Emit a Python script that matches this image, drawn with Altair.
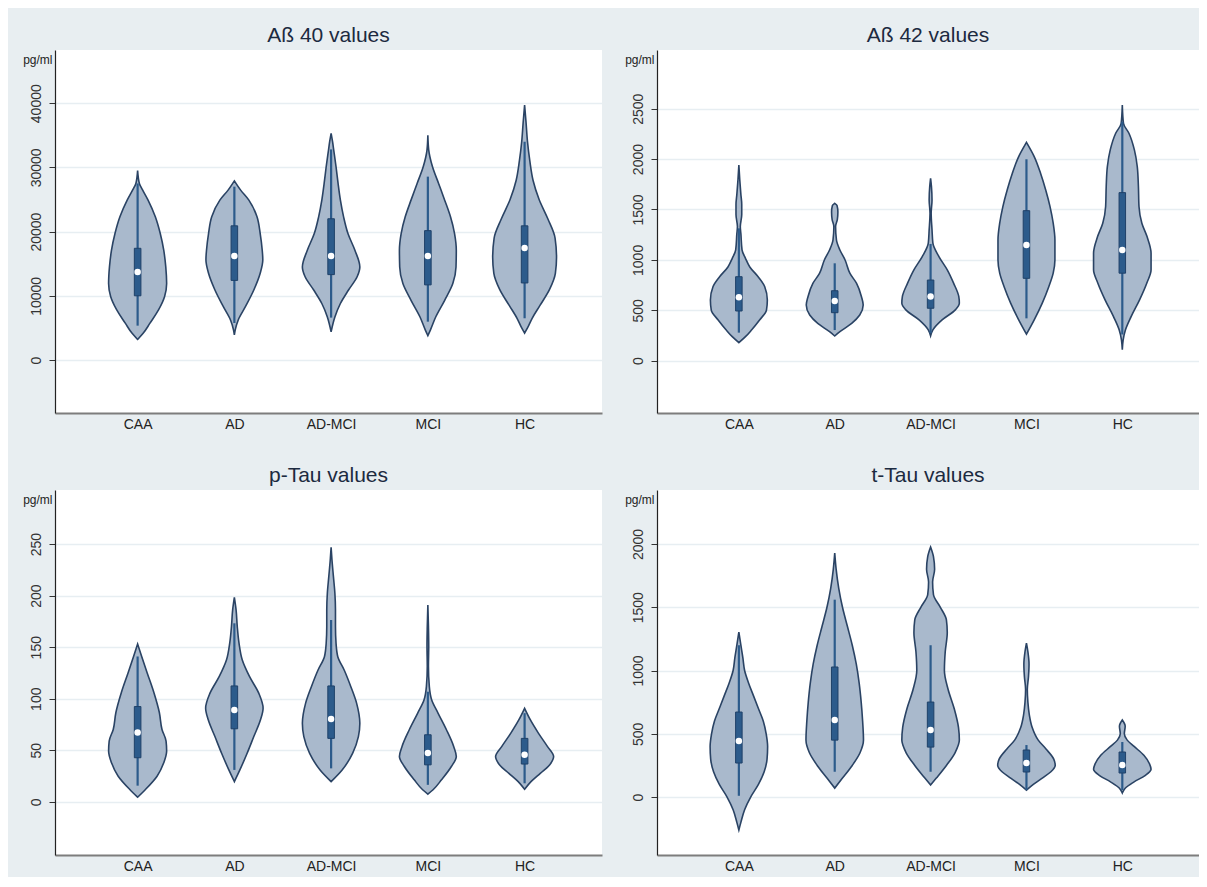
import altair as alt
import pandas as pd

GROUPS = ["CAA", "AD", "AD-MCI", "MCI", "HC"]

# ---------------- Aß 40 (pg/ml) : violin outlines (value, relative density) ----------------
AB40_CAA_V = [29500, 27500, 26500, 24900, 22300, 19700, 17100, 14500, 11900, 9900, 7800, 5700, 4150, 3200]
AB40_CAA_D = [0, 0.06, 0.17, 0.36, 0.61, 0.78, 0.9, 0.97, 1.0, 0.93, 0.72, 0.42, 0.19, 0]
AB40_AD_V = [27900, 26500, 24900, 22300, 19700, 17100, 15600, 13500, 10900, 8300, 6200, 4700, 3900]
AB40_AD_D = [0, 0.21, 0.5, 0.78, 0.89, 0.96, 0.98, 0.89, 0.67, 0.38, 0.13, 0.03, 0]
AB40_ADMCI_V = [35300, 34000, 32700, 30100, 27500, 24900, 22300, 19700, 17100, 14500, 13000, 10900, 8800, 6700, 4400]
AB40_ADMCI_D = [0, 0.05, 0.09, 0.17, 0.24, 0.32, 0.43, 0.58, 0.82, 0.99, 0.9, 0.6, 0.32, 0.13, 0]
AB40_MCI_V = [35000, 32700, 30100, 27500, 24900, 22300, 19700, 17100, 14500, 11900, 9300, 6700, 4700, 3800]
AB40_MCI_D = [0, 0.03, 0.16, 0.37, 0.58, 0.78, 0.92, 0.98, 0.97, 0.86, 0.58, 0.27, 0.09, 0]
AB40_HC_V = [39700, 37000, 34000, 31000, 28000, 25000, 22000, 19000, 16000, 13500, 11000, 8500, 6500, 5000, 4200]
AB40_HC_D = [0, 0.05, 0.1, 0.18, 0.29, 0.5, 0.8, 1.05, 1.1, 1.06, 0.86, 0.53, 0.26, 0.1, 0]
AB40_MED = [13700, 16200, 16200, 16200, 17450]
AB40_Q1 = [10000, 12400, 13300, 11700, 12000]
AB40_Q3 = [17400, 20900, 22000, 20150, 20900]
AB40_LO = [5350, 5760, 6600, 5970, 6500]
AB40_HI = [27500, 27000, 32800, 28560, 34000]
AB40_TICKS = [0, 10000, 20000, 30000, 40000]

# ---------------- Aß 42 ----------------
AB42_CAA_V = [1940, 1800, 1650, 1550, 1450, 1330, 1260, 1100, 1015, 930, 833, 734, 602, 502, 403, 304, 238, 179]
AB42_CAA_D = [0, 0.03, 0.07, 0.1, 0.1, 0.05, 0.07, 0.11, 0.23, 0.38, 0.67, 0.9, 0.99, 0.96, 0.72, 0.44, 0.23, 0]
AB42_AD_V = [1561, 1540, 1476, 1400, 1330, 1197, 1098, 999, 866, 767, 635, 552, 453, 370, 288, 245]
AB42_AD_D = [0, 0.08, 0.11, 0.09, 0.03, 0.06, 0.18, 0.36, 0.53, 0.76, 0.93, 0.99, 0.87, 0.59, 0.18, 0]
AB42_ADMCI_V = [1809, 1727, 1595, 1463, 1298, 1166, 1033, 901, 769, 637, 570, 504, 405, 306, 246]
AB42_ADMCI_D = [0, 0.03, 0.05, 0.02, 0.05, 0.08, 0.29, 0.58, 0.8, 0.98, 1.0, 0.86, 0.4, 0.08, 0]
AB42_MCI_V = [2166, 2025, 1860, 1694, 1529, 1364, 1198, 1000, 868, 736, 571, 405, 263]
AB42_MCI_D = [0, 0.27, 0.49, 0.67, 0.82, 0.93, 0.99, 0.99, 0.93, 0.78, 0.55, 0.27, 0]
AB42_HC_V = [2537, 2355, 2256, 2091, 1925, 1727, 1529, 1364, 1231, 1066, 901, 769, 604, 439, 306, 207, 108]
AB42_HC_D = [0, 0.04, 0.23, 0.42, 0.52, 0.56, 0.58, 0.68, 0.86, 1.0, 1.0, 0.85, 0.6, 0.31, 0.11, 0.03, 0]
AB42_MED = [629, 592, 636, 1148, 1099]
AB42_Q1 = [493, 476, 520, 817, 868]
AB42_Q3 = [833, 694, 800, 1488, 1667]
AB42_LO = [278, 304, 272, 420, 260]
AB42_HI = [1313, 966, 1158, 1998, 2370]
AB42_TICKS = [0, 500, 1000, 1500, 2000, 2500]

# ---------------- p-Tau ----------------
PTAU_CAA_V = [153, 141, 125, 106, 86.4, 70.2, 58.9, 49.2, 37.8, 24.8, 11.9, 4.4]
PTAU_CAA_D = [0, 0.14, 0.33, 0.56, 0.75, 0.84, 0.98, 1.0, 0.9, 0.67, 0.27, 0]
PTAU_AD_V = [198.4, 186, 170, 154, 137.8, 121.6, 105.4, 90.8, 79.5, 63.3, 47.1, 30.9, 19.6]
PTAU_AD_D = [0, 0.06, 0.1, 0.16, 0.27, 0.52, 0.84, 0.99, 0.9, 0.67, 0.44, 0.19, 0]
PTAU_ADMCI_V = [247, 234.7, 218.5, 202.4, 186.2, 170, 153.8, 140.8, 127.9, 111.7, 95.5, 76.1, 63.2, 47, 30.8, 19.5]
PTAU_ADMCI_D = [0, 0.03, 0.08, 0.13, 0.15, 0.15, 0.17, 0.23, 0.45, 0.68, 0.88, 0.99, 0.94, 0.74, 0.38, 0]
PTAU_MCI_V = [191, 170, 151, 131.5, 112, 99, 86.1, 69.9, 53.7, 44, 34.2, 21.3, 11.6, 7.3]
PTAU_MCI_D = [0, 0.02, 0.03, 0.02, 0.05, 0.13, 0.35, 0.64, 0.89, 0.98, 0.81, 0.47, 0.18, 0]
PTAU_HC_V = [90.7, 79.4, 66.4, 53.5, 43.8, 35.7, 27.6, 19.5, 12.1]
PTAU_HC_D = [0, 0.2, 0.48, 0.79, 1.0, 0.86, 0.54, 0.22, 0]
PTAU_MED = [67.3, 89.1, 80.3, 47.2, 45.6]
PTAU_Q1 = [42.7, 70.8, 61.5, 35.8, 36.6]
PTAU_Q3 = [92.4, 112.4, 112.4, 65, 61.5]
PTAU_LO = [15.6, 30.9, 32.4, 16.4, 17.9]
PTAU_HI = [141, 173.2, 176.4, 106.8, 86]
PTAU_TICKS = [0, 50, 100, 150, 200, 250]

# ---------------- t-Tau ----------------
TTAU_CAA_V = [1304, 1200, 1100, 1000, 900, 800, 700, 600, 500, 400, 300, 200, 100, 0, -100, -200, -260]
TTAU_CAA_D = [0, 0.07, 0.14, 0.2, 0.34, 0.51, 0.68, 0.85, 0.95, 1.0, 0.98, 0.88, 0.68, 0.41, 0.2, 0.07, 0]
TTAU_AD_V = [1929, 1800, 1650, 1500, 1350, 1200, 1050, 900, 750, 600, 450, 350, 250, 150, 71]
TTAU_AD_D = [0, 0.05, 0.14, 0.27, 0.44, 0.61, 0.75, 0.85, 0.92, 0.97, 1.0, 0.88, 0.61, 0.27, 0]
TTAU_ADMCI_V = [1976, 1900, 1800, 1700, 1600, 1500, 1400, 1300, 1150, 1000, 850, 700, 550, 450, 350, 250, 150, 95]
TTAU_ADMCI_D = [0, 0.1, 0.14, 0.07, 0.1, 0.34, 0.55, 0.58, 0.51, 0.48, 0.61, 0.82, 0.97, 1.0, 0.85, 0.55, 0.2, 0]
TTAU_MCI_V = [1217, 1150, 1050, 950, 850, 750, 650, 550, 450, 380, 300, 250, 200, 150, 100, 55]
TTAU_MCI_D = [0, 0.05, 0.09, 0.07, 0.03, 0.05, 0.1, 0.2, 0.41, 0.68, 0.95, 1.0, 0.85, 0.55, 0.24, 0]
TTAU_HC_V = [609, 560, 500, 450, 400, 330, 260, 220, 170, 120, 70, 32]
TTAU_HC_D = [0, 0.1, 0.07, 0.17, 0.41, 0.75, 0.95, 1.0, 0.79, 0.41, 0.1, 0]
TTAU_MED = [443, 609, 530, 269, 253]
TTAU_Q1 = [269, 450, 395, 198, 190]
TTAU_Q3 = [672, 1028, 751, 372, 356]
TTAU_LO = [10, 200, 200, 55, 55]
TTAU_HI = [1200, 1560, 1200, 411, 435]
TTAU_TICKS = [0, 500, 1000, 1500, 2000]

# ---------------- styling ----------------
HALF = 0.30        # max half width of a violin, in category units
BOX_HALF = 0.034   # half width of the IQR box
FONT = "Liberation Sans"
VIOLIN_FILL = "#a9b9cc"
VIOLIN_STROKE = "#2a4364"
BOX_FILL = "#2c5b8b"
BOX_STROKE = "#1f4168"
GRID = "#e7eef2"
BG = "#e8eef1"

label_expr = "[" + ",".join("'%s'" % g for g in GROUPS) + "][datum.value - 1]"


def violin_frame(profiles):
    rows = []
    for i, (vals, dens) in enumerate(profiles, start=1):
        for v, d in zip(vals, dens):
            rows.append({"g": i, "v": v, "lx": i - HALF * d, "rx": i + HALF * d})
    return pd.DataFrame(rows).sort_values(["g", "v"])


def stats_frame(med, q1, q3, lo, hi):
    rows = []
    for i in range(len(GROUPS)):
        g = i + 1
        rows.append({"g": g, "med": med[i], "q1": q1[i], "q3": q3[i], "lo": lo[i], "hi": hi[i],
                     "bl": g - BOX_HALF, "br": g + BOX_HALF})
    return pd.DataFrame(rows)


def panel(title, profiles, med, q1, q3, lo, hi, ticks, ydom, width, height):
    vdf = violin_frame(profiles)
    sdf = stats_frame(med, q1, q3, lo, hi)
    xs = alt.Scale(domain=[0.146, 5.80], nice=False, zero=False)
    ys = alt.Scale(domain=ydom, nice=False, zero=False)
    xaxis = alt.Axis(values=[1, 2, 3, 4, 5], labelExpr=label_expr, grid=False, ticks=False,
                     domainColor="#7d7d7d", domainWidth=2, labelFontSize=14, labelColor="#222222",
                     labelPadding=4, title=None, labelFont=FONT)
    yaxis = alt.Axis(values=ticks, format="d", title="pg/ml", titleAngle=0, titleAlign="right",
                     titleBaseline="top", titleX=-3, titleY=4, titleFontSize=12, titleFontWeight="normal",
                     titleColor="#222222", titleFont=FONT, labelAngle=270, labelAlign="center",
                     labelBaseline="bottom", labelFontSize=14, labelColor="#333333", labelPadding=6,
                     labelFont=FONT, tickSize=6, tickColor="#333333", domainColor="#222222",
                     domainWidth=1.2, grid=True, gridColor=GRID, gridWidth=1.5)

    violin = alt.Chart(vdf).mark_area(
        orient="horizontal", interpolate="monotone", fill=VIOLIN_FILL, stroke=VIOLIN_STROKE,
        strokeWidth=1.6, opacity=1
    ).encode(
        y=alt.Y("v:Q", scale=ys, axis=yaxis),
        x=alt.X("lx:Q", scale=xs, axis=xaxis, stack=None),
        x2="rx:Q",
        detail="g:N",
    )
    whisker = alt.Chart(sdf).mark_rule(color=BOX_FILL, strokeWidth=2.2).encode(
        x=alt.X("g:Q", scale=xs, axis=xaxis),
        y=alt.Y("lo:Q", scale=ys, axis=yaxis),
        y2="hi:Q",
    )
    box = alt.Chart(sdf).mark_rect(fill=BOX_FILL, stroke=BOX_STROKE, strokeWidth=1).encode(
        x=alt.X("bl:Q", scale=xs, axis=xaxis),
        x2="br:Q",
        y=alt.Y("q1:Q", scale=ys, axis=yaxis),
        y2="q3:Q",
    )
    median = alt.Chart(sdf).mark_circle(color="white", size=42, opacity=1).encode(
        x=alt.X("g:Q", scale=xs, axis=xaxis),
        y=alt.Y("med:Q", scale=ys, axis=yaxis),
    )
    return alt.layer(violin, whisker, box, median).properties(
        width=width, height=height,
        title=alt.TitleParams(title, fontSize=21, fontWeight="normal", color="#1c2a40",
                              font=FONT, offset=4, anchor="middle"),
    )


p1 = panel("Aß 40 values",
           [(AB40_CAA_V, AB40_CAA_D), (AB40_AD_V, AB40_AD_D), (AB40_ADMCI_V, AB40_ADMCI_D),
            (AB40_MCI_V, AB40_MCI_D), (AB40_HC_V, AB40_HC_D)],
           AB40_MED, AB40_Q1, AB40_Q3, AB40_LO, AB40_HI, AB40_TICKS, [-8255, 48287], 547, 363)
p2 = panel("Aß 42 values",
           [(AB42_CAA_V, AB42_CAA_D), (AB42_AD_V, AB42_AD_D), (AB42_ADMCI_V, AB42_ADMCI_D),
            (AB42_MCI_V, AB42_MCI_D), (AB42_HC_V, AB42_HC_D)],
           AB42_MED, AB42_Q1, AB42_Q3, AB42_LO, AB42_HI, AB42_TICKS, [-519, 3082], 542, 363)
p3 = panel("p-Tau values",
           [(PTAU_CAA_V, PTAU_CAA_D), (PTAU_AD_V, PTAU_AD_D), (PTAU_ADMCI_V, PTAU_ADMCI_D),
            (PTAU_MCI_V, PTAU_MCI_D), (PTAU_HC_V, PTAU_HC_D)],
           PTAU_MED, PTAU_Q1, PTAU_Q3, PTAU_LO, PTAU_HI, PTAU_TICKS, [-51.7, 302.6], 547, 365)
p4 = panel("t-Tau values",
           [(TTAU_CAA_V, TTAU_CAA_D), (TTAU_AD_V, TTAU_AD_D), (TTAU_ADMCI_V, TTAU_ADMCI_D),
            (TTAU_MCI_V, TTAU_MCI_D), (TTAU_HC_V, TTAU_HC_D)],
           TTAU_MED, TTAU_Q1, TTAU_Q3, TTAU_LO, TTAU_HI, TTAU_TICKS, [-458, 2427], 542, 365)

chart = alt.concat(
    p1, p2, p3, p4, columns=2, spacing={"row": 77, "column": 55}, bounds="flush",
    padding={"left": 14, "top": 17, "right": 0, "bottom": 4},
).configure(background=BG).configure_view(fill="white", strokeWidth=0)

chart.save("out.html", embed_options={"renderer": "svg", "actions": False})
